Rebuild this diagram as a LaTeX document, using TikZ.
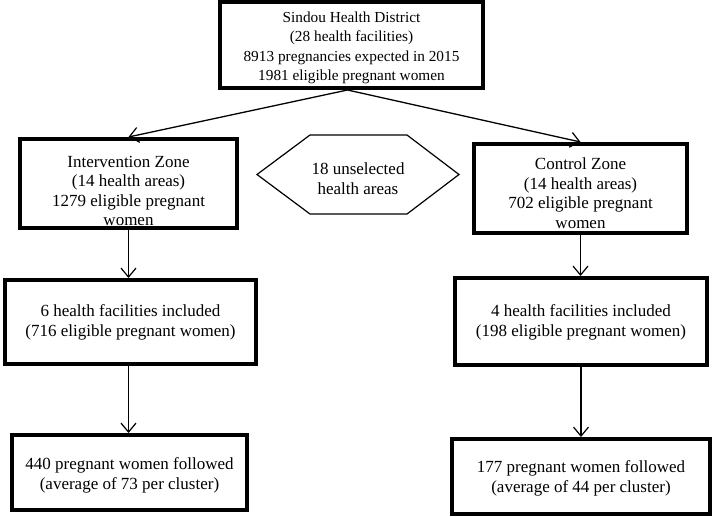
\documentclass[tikz,border=0pt]{standalone}
\usepackage{fontspec}
\setmainfont{Liberation Serif}
\usetikzlibrary{arrows.meta,calc}
\begin{document}
\begin{tikzpicture}[x=1pt,y=-1pt,
  box/.style={draw,line width=3.8pt,inner sep=0pt},
  txt/.style={align=center,inner sep=0pt,font=\fontsize{17}{20.3}\selectfont},
  zonetxt/.style={align=center,inner sep=0pt,font=\fontsize{17}{19.6}\selectfont},
  toptxt/.style={align=center,inner sep=0pt,font=\fontsize{15.3}{19.5}\selectfont},
  arr/.style={line width=1.3pt,-{Straight Barb[length=9pt,width=15pt,line width=1.2pt]}},
  hexline/.style={line width=1.2pt,line join=miter}]
\useasboundingbox (0,0) rectangle (716,517);
% boxes
\node[box,minimum width=263.2pt,minimum height=86.2pt] (top) at (351.5,45) {};
\node[box,minimum width=217.2pt,minimum height=89.2pt] (int) at (128.5,183.5) {};
\node[box,minimum width=213.2pt,minimum height=89.2pt] (ctl) at (580.5,188.5) {};
\node[box,minimum width=251.2pt,minimum height=84.2pt] (midl) at (130.5,322) {};
\node[box,minimum width=252.2pt,minimum height=87.2pt] (midr) at (581,321.5) {};
\node[box,minimum width=235.2pt,minimum height=75.2pt] (botl) at (129.5,472.5) {};
\node[box,minimum width=258.2pt,minimum height=75.2pt] (botr) at (581,476.5) {};
% texts
\node[toptxt] (toptext) at (351.5,48) {Sindou Health District\\(28 health facilities)\\8913 pregnancies expected in 2015\\1981 eligible pregnant women};
\node[zonetxt] (inttext) at (128.5,191) {Intervention Zone\\(14 health areas)\\1279 eligible pregnant\\women};
\node[zonetxt] (ctltext) at (580.5,193) {Control Zone\\(14 health areas)\\702 eligible pregnant\\women};
\node[txt] (midltext) at (130.5,322.5) {6 health facilities included\\(716 eligible pregnant women)};
\node[txt] (midrtext) at (581,322) {4 health facilities included\\(198 eligible pregnant women)};
\node[txt] (botltext) at (129.5,475) {440 pregnant women followed\\(average of 73 per cluster)};
\node[txt] (botrtext) at (581,478) {177 pregnant women followed\\(average of 44 per cluster)};
% hexagon
\coordinate (hc) at (358,174.5);
\node[txt] (hex) at (358,178.5) {18 unselected\\health areas};
\draw[hexline] ($(hc)+(-101,0)$) -- ($(hc)+(-48,-39.5)$) -- ($(hc)+(49,-39.5)$) -- ($(hc)+(101,0)$) -- ($(hc)+(49,39.5)$) -- ($(hc)+(-48,39.5)$) -- cycle;
% arrows
\draw[arr] ($(top.south)+(-4,0)$) -- (int.north);
\draw[arr] ($(top.south)+(-4,0)$) -- (ctl.north);
\draw[arr] (int.south) -- (int.south |- midl.north);
\draw[arr] (ctl.south) -- (ctl.south |- midr.north);
\draw[arr] (int.south |- midl.south) -- (int.south |- botl.north);
\draw[arr] (midr.south) -- (midr.south |- botr.north);
\end{tikzpicture}
\end{document}
